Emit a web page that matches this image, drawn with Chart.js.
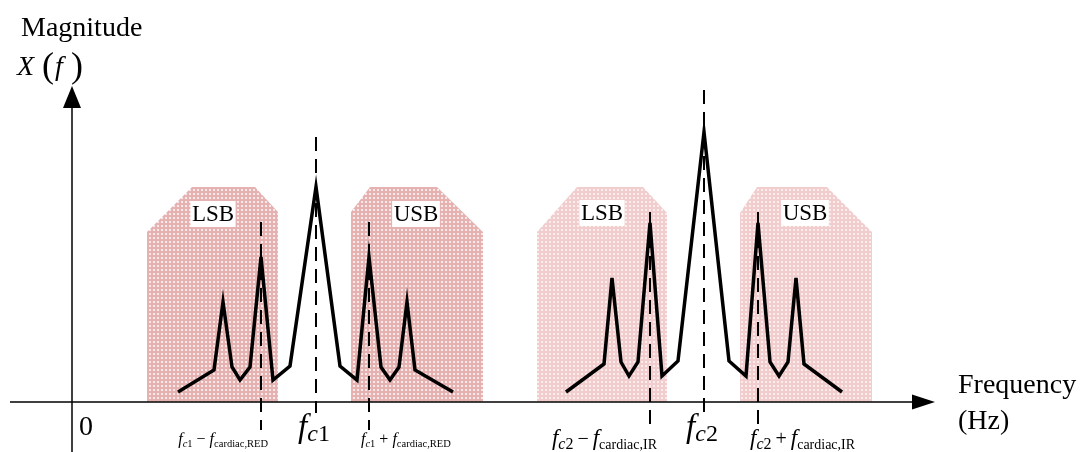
<!DOCTYPE html>
<html>
<head>
<meta charset="utf-8">
<script src="https://cdn.jsdelivr.net/npm/chart.js@4.4.0/dist/chart.umd.min.js"></script>
<style>
  body { margin: 0; background: #fff; }
  #chart { display: block; }
</style>
</head>
<body>
<canvas id="chart" width="1084" height="452"></canvas>
<script>
// spectrum around carrier fc1 (red) and fc2 (IR), frequency in arbitrary units
const red_freq = [106, 142, 151, 160, 168, 178, 189, 201, 218, 244, 268, 285, 297, 309, 318, 327, 335, 343, 381];
const red_mag = [10, 32, 100, 35, 22, 35, 145, 22, 36, 215, 36, 22, 145, 35, 22, 35, 100, 32, 10];
const ir_freq = [494, 532, 540, 549, 557, 566, 578, 590, 606, 632, 657, 674, 686, 698, 707, 716, 724, 732, 770];
const ir_mag = [10, 38, 124, 40, 26, 40, 179, 26, 41, 270, 41, 26, 179, 40, 26, 40, 124, 38, 10];

// sideband regions (outline of each shaded box)
const band_names = ["LSB", "USB", "LSB", "USB"];
const band_freq = [
  [75, 75, 120, 183, 206, 206],
  [279, 279, 298, 365, 411, 411],
  [465, 465, 505, 571, 595, 595],
  [668, 668, 685, 755, 800, 800],
];
const band_mag = [
  [2, 170, 215, 215, 190, 2],
  [2, 190, 215, 215, 170, 2],
  [2, 170, 215, 215, 189, 2],
  [2, 189, 215, 215, 170, 2],
];
const band_label_freq = [141, 344, 530, 733];
const band_label_mag = [188, 188, 189, 189];

// dashed markers at fc - fcardiac, fc, fc + fcardiac
const marker_freq = [189, 244, 297, 578, 632, 686];
const marker_top = [180, 265, 180, 190, 312, 190];
const marker_bottom = [-28, -11, -28, -30, -11, -30];

const SERIF = '"Liberation Serif", "Times New Roman", serif';
const fontR = (s) => s + "px " + SERIF;
const fontI = (s) => "italic " + s + "px " + SERIF;

// labels under the axis: runs of [text, font, dy]
function sideLabel(small, sign, tag) {
  if (small) {
    return [["f", fontI(16), 0], ["c", fontI(10.5), 3], ["1", fontR(10.5), 3],
            [" " + sign + " ", fontR(16), 0], ["f", fontI(16), 0], ["cardiac," + tag, fontR(10.5), 3]];
  }
  return [["f", fontI(23), 0], ["c", fontI(16), 4], ["2", fontR(16), 4],
          ["\u2009" + sign + "\u2009", fontR(20), 0], ["f", fontI(23), 0], ["cardiac," + tag, fontR(14), 4]];
}
const marker_labels = [
  sideLabel(true, "\u2212", "RED"),
  [["f", fontI(33), 0], ["c", fontI(24), 4], ["1", fontR(24), 4]],
  sideLabel(true, "+", "RED"),
  sideLabel(false, "\u2212", "IR"),
  [["f", fontI(33), 0], ["c", fontI(24), 4], ["2", fontR(24), 4]],
  sideLabel(false, "+", "IR"),
];
const marker_label_align = ["right", "center", "left", "right", "center", "left"];

function makePattern(base, dot) {
  const c = document.createElement("canvas");
  c.width = 4;
  c.height = 4;
  const g = c.getContext("2d");
  g.fillStyle = base;
  g.fillRect(0, 0, 4, 4);
  g.fillStyle = dot;
  g.fillRect(1, 1, 2, 2);
  return g.createPattern(c, "repeat");
}
const redFill = makePattern("#e6b1b1", "#fae9e9");
const irFill = makePattern("#f1cdcd", "#fbeded");

function toPoints(xs, ys) {
  return xs.map((x, i) => ({ x: x, y: ys[i] }));
}

let datasets = [
  {
    data: toPoints(red_freq, red_mag),
    borderColor: "#000",
    borderWidth: 3.5,
    borderJoinStyle: "miter",
    order: 0,
  },
  {
    data: toPoints(ir_freq, ir_mag),
    borderColor: "#000",
    borderWidth: 3.5,
    borderJoinStyle: "miter",
    order: 0,
  },
];

marker_freq.forEach((f, i) => {
  datasets.push({
    data: [{ x: f, y: marker_top[i] }, { x: f, y: marker_bottom[i] }],
    borderColor: "#000",
    borderWidth: 2,
    borderDash: [14, 8],
    order: 1,
  });
});

band_freq.forEach((xs, i) => {
  datasets.push({
    data: toPoints(xs, band_mag[i]),
    borderWidth: 0,
    borderColor: "rgba(0,0,0,0)",
    backgroundColor: i < 2 ? redFill : irFill,
    fill: "origin",
    order: 2,
  });
});

// axes with arrows, band labels and all texts
const decorations = {
  id: "decorations",
  afterDatasetsDraw(chart) {
    const ctx = chart.ctx;
    const xs = chart.scales.x;
    const ys = chart.scales.y;
    const x0 = xs.getPixelForValue(0);
    const y0 = ys.getPixelForValue(0);

    ctx.save();
    ctx.strokeStyle = "#000";
    ctx.fillStyle = "#000";
    ctx.lineWidth = 1.5;

    // frequency axis
    const xEnd = xs.getPixelForValue(863);
    ctx.beginPath();
    ctx.moveTo(xs.getPixelForValue(-62), y0);
    ctx.lineTo(xEnd - 20, y0);
    ctx.stroke();
    ctx.beginPath();
    ctx.moveTo(xEnd, y0);
    ctx.lineTo(xEnd - 23, y0 - 7.5);
    ctx.lineTo(xEnd - 23, y0 + 7.5);
    ctx.closePath();
    ctx.fill();

    // magnitude axis
    const yEnd = ys.getPixelForValue(316);
    ctx.beginPath();
    ctx.moveTo(x0, ys.getPixelForValue(-50));
    ctx.lineTo(x0, yEnd + 20);
    ctx.stroke();
    ctx.beginPath();
    ctx.moveTo(x0, yEnd);
    ctx.lineTo(x0 - 9, yEnd + 22);
    ctx.lineTo(x0 + 9, yEnd + 22);
    ctx.closePath();
    ctx.fill();

    // LSB / USB boxes
    ctx.font = fontR(23);
    ctx.textAlign = "center";
    ctx.textBaseline = "middle";
    band_names.forEach((name, i) => {
      const px = xs.getPixelForValue(band_label_freq[i]);
      const py = ys.getPixelForValue(band_label_mag[i]);
      const w = ctx.measureText(name).width + 3;
      ctx.fillStyle = "#fff";
      ctx.fillRect(px - w / 2, py - 13, w, 26);
      ctx.fillStyle = "#000";
      ctx.fillText(name, px, py + 1);
    });

    // labels under the dashed markers
    ctx.textAlign = "left";
    ctx.textBaseline = "alphabetic";
    marker_labels.forEach((runs, i) => {
      let total = 0;
      runs.forEach((r) => {
        ctx.font = r[1];
        total += ctx.measureText(r[0]).width;
      });
      const px = xs.getPixelForValue(marker_freq[i]);
      let sx;
      if (marker_label_align[i] === "right") sx = px + 7 - total;
      else if (marker_label_align[i] === "left") sx = px - 8;
      else sx = px - total / 2 - 2;
      const base = marker_label_align[i] === "center" ? y0 + 35 : y0 + (i < 3 ? 42 : 43);
      runs.forEach((r) => {
        ctx.font = r[1];
        ctx.fillText(r[0], sx, base + r[2]);
        sx += ctx.measureText(r[0]).width;
      });
    });

    // axis titles
    ctx.font = fontR(28);
    ctx.fillText("Magnitude", 21, 36);
    ctx.font = fontI(28);
    ctx.fillText("X", 17, 75);
    ctx.font = fontR(36);
    ctx.fillText("(", 42, 77);
    ctx.font = fontI(28);
    ctx.fillText("f", 55, 75);
    ctx.font = fontR(36);
    ctx.fillText(")", 71, 77);

    ctx.font = fontR(28);
    ctx.fillText("Frequency", 958, 393);
    ctx.fillText("(Hz)", 958, 429);
    ctx.fillText("0", x0 + 7, y0 + 33);
    ctx.restore();
  },
};

let config = {
  type: "line",
  data: { datasets: datasets },
  plugins: [decorations],
  options: {
    responsive: false,
    animation: false,
    layout: { padding: 0 },
    elements: {
      point: { radius: 0, hoverRadius: 0 },
      line: { tension: 0 },
    },
    plugins: {
      legend: { display: false },
      tooltip: { enabled: false },
      title: { display: false },
    },
    scales: {
      x: { type: "linear", min: -72, max: 1012, display: false },
      y: { type: "linear", min: -50, max: 402, display: false },
    },
  },
};

var chart = new Chart(document.getElementById("chart"), config);
</script>
</body>
</html>
